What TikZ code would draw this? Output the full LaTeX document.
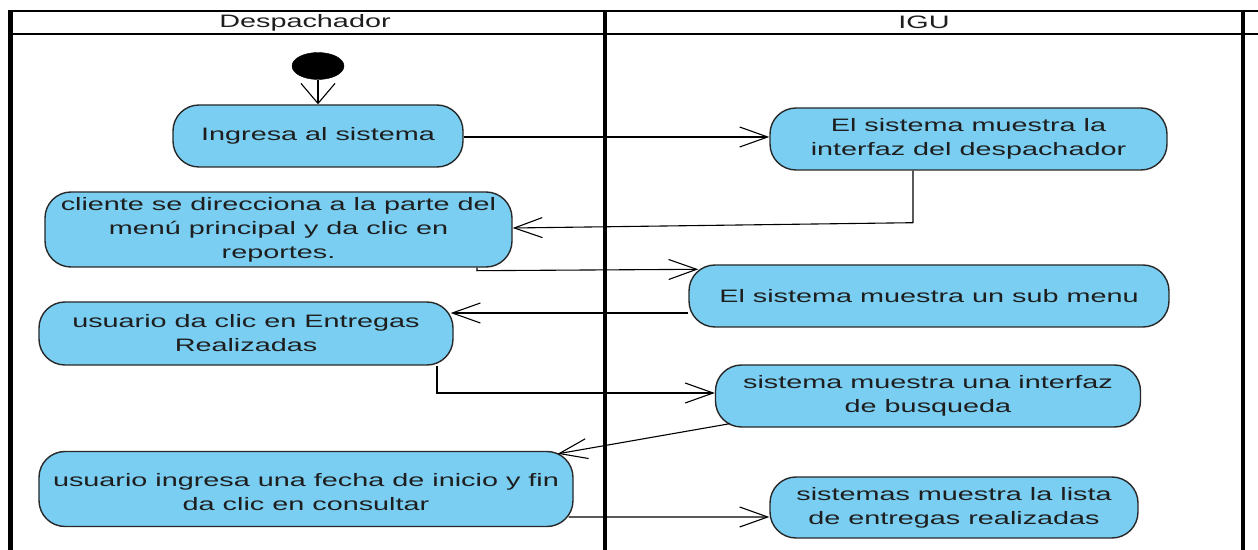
\documentclass[tikz,border=0pt]{standalone}
\usepackage{fontspec}
\setmainfont{Liberation Sans}[FakeStretch=1.6]
\usetikzlibrary{arrows.meta,shapes.geometric}
\definecolor{actfill}{RGB}{122,206,242}
\definecolor{actline}{RGB}{40,40,40}
\definecolor{txt}{RGB}{30,30,30}
\tikzset{
  lane/.style={line width=4.5bp, black},
  hline/.style={line width=2.5bp, black},
  act/.style={draw=actline, fill=actfill, line width=1.4bp, rounded corners=26bp,
    align=center, text=txt, inner sep=0pt, font=\fontsize{18bp}{24bp}\selectfont},
  harr/.style={line width=1.1bp, -{Straight Barb[length=28bp,width=20bp,line width=1.1bp]}},
  varr/.style={line width=1.1bp, -{Straight Barb[length=20bp,width=34bp,line width=1.1bp]}},
  lanelabel/.style={text=txt, inner sep=0pt, font=\fontsize{18bp}{20bp}\selectfont},
}
\begin{document}
\begin{tikzpicture}[x=1bp,y=-1bp]
\useasboundingbox (0,0) rectangle (1258,550);
% swimlanes
\coordinate (tl) at (8,11);
\coordinate (tr) at (1258,11);
\coordinate (hl) at (8,34);
\coordinate (hr) at (1258,34);
\draw[hline] (tl) -- (tr);
\draw[hline] (hl) -- (hr);
\coordinate (l1) at (10.5,9.8);
\coordinate (l2) at (10.5,550);
\coordinate (m1) at (605,9.8);
\coordinate (m2) at (605,550);
\coordinate (r1) at (1243,9.8);
\coordinate (r2) at (1243,550);
\draw[lane] (l1) -- (l2);
\draw[lane] (m1) -- (m2);
\draw[lane] (r1) -- (r2);
\node[lanelabel] (hd) at (305,22.5) {Despachador};
\node[lanelabel] (hi) at (924,22.5) {IGU};
% initial node
\node[ellipse, fill=black, draw=black, minimum width=52bp, minimum height=27bp, inner sep=0pt] (init) at (318,66) {};
% actions
\node[act, minimum width=290bp, minimum height=62bp] (A) at (318,136) {Ingresa al sistema};
\node[act, minimum width=397bp, minimum height=62bp] (B) at (968.5,139) {El sistema muestra la\\interfaz del despachador};
\node[act, minimum width=467bp, minimum height=75bp] (C) at (278.5,229.5) {cliente se direcciona a la parte del\\men\'u principal y da clic en\\reportes.};
\node[act, minimum width=480bp, minimum height=62bp] (D) at (929,296) {El sistema muestra un sub menu};
\node[act, minimum width=414bp, minimum height=63bp] (E) at (246,333.5) {usuario da clic en Entregas\\Realizadas};
\node[act, minimum width=425bp, minimum height=62bp] (F) at (928,396) {sistema muestra una interfaz\\de busqueda};
\node[act, minimum width=534bp, minimum height=75bp] (G) at (306,489) {\\[-5bp]usuario ingresa una fecha de inicio y fin\\da clic en consultar};
\node[act, minimum width=368bp, minimum height=61bp] (H) at (954,507.5) {sistemas muestra la lista\\de entregas realizadas};
% connectors
\draw[varr] (init.south) -- (A.north);
\draw[harr] ([yshift=-1bp]A.east) -- ([yshift=-1bp]A.east -| B.west);
\draw[harr] ([xshift=-55.5bp]B.south) -- ++(0,52) -- ([yshift=1.5bp]C.east);
\draw[harr] ([xshift=198.5bp]C.south) -- ++(0,3) -- ([xshift=10bp,yshift=-5bp]D.north west);
\draw[harr] ([yshift=-17bp]D.west) -- ([xshift=-3bp,yshift=-17bp]D.west -| E.east);
\draw[harr] ([xshift=191bp]E.south) |- ([yshift=3bp]F.west);
\draw[harr] ([xshift=15bp,yshift=4bp]F.south west) -- ([xshift=-16bp,yshift=-3bp]G.north east);
\draw[harr] ([xshift=-5bp,yshift=-28bp]G.east) -- ([yshift=-9.5bp]H.west);
\end{tikzpicture}
\end{document}
